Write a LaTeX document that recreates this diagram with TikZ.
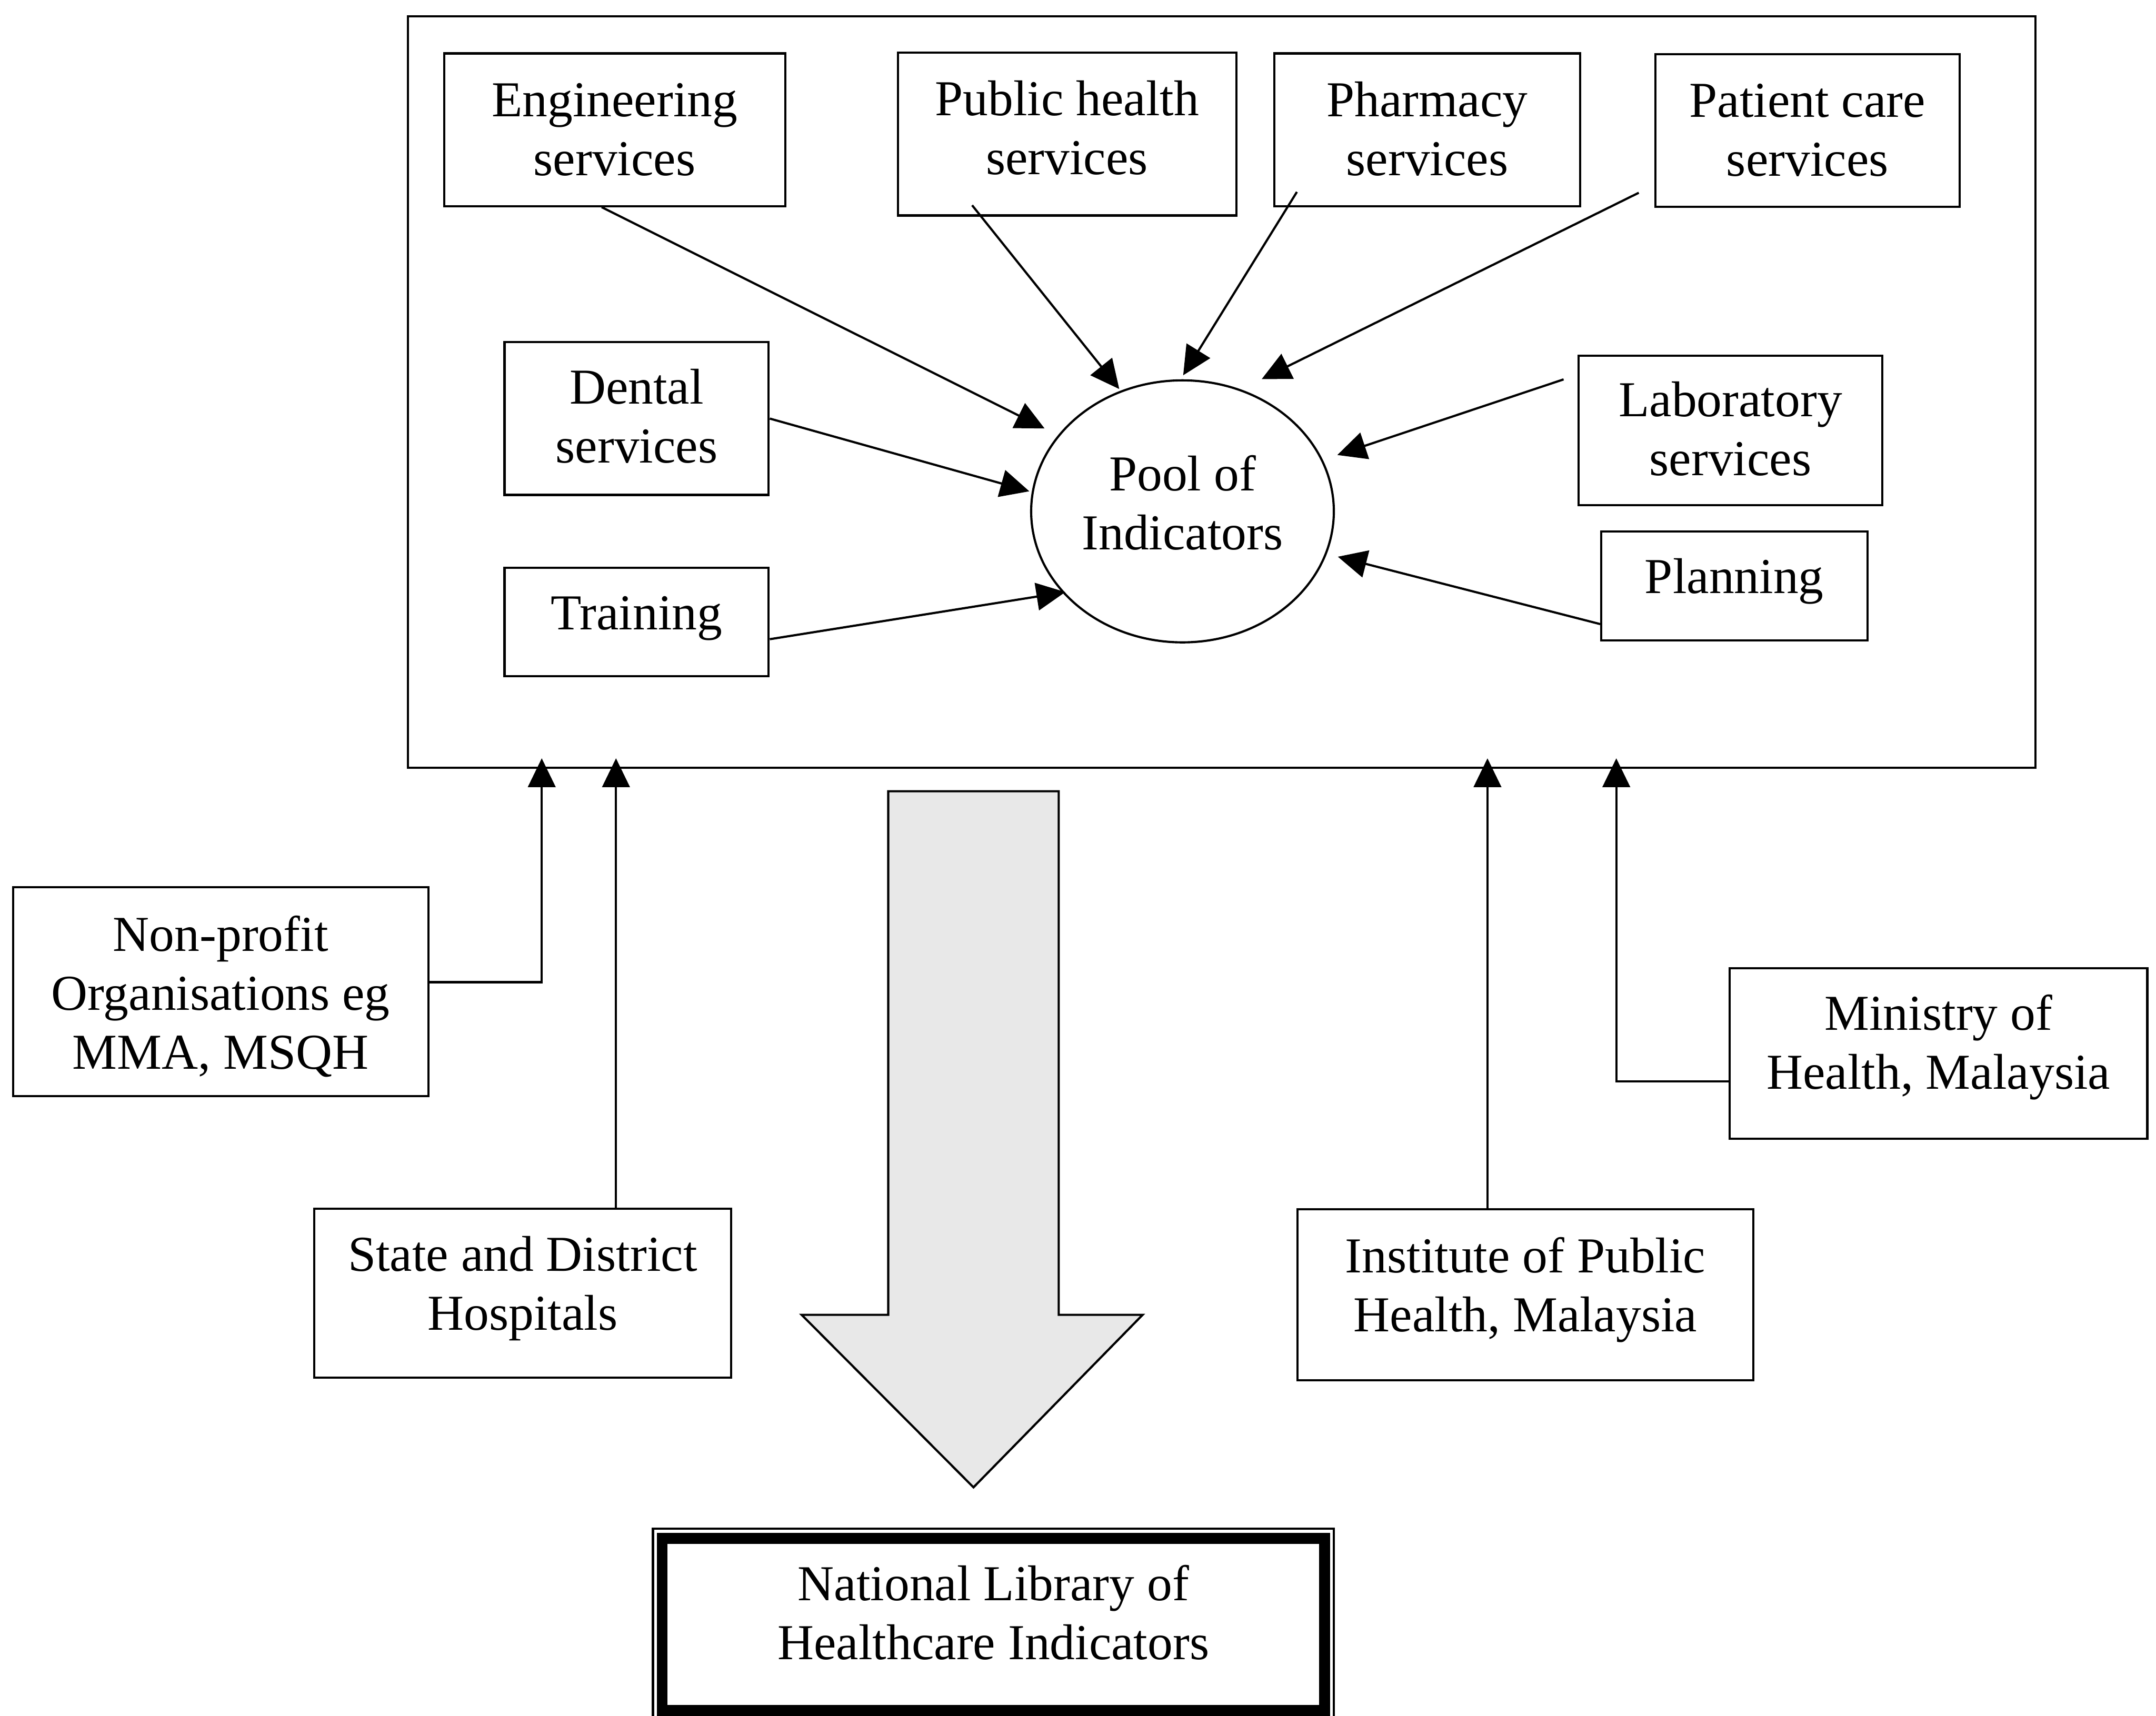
\documentclass[tikz,border=0pt]{standalone}
\usepackage{fontspec}
\setmainfont{Liberation Serif}
\usetikzlibrary{arrows.meta,shapes.geometric}

% text block of fixed size, lines hung from the top with a given gap
\newcommand{\toptext}[4]{\parbox[c][#2][t]{#1}{\centering\vspace*{#3}\strut#4\strut}}

\definecolor{arrowgray}{HTML}{E8E8E8}

\begin{document}
\begin{tikzpicture}[x=0.01cm,y=-0.01cm,
  every node/.style={font=\fontsize{10.4pt}{12.2pt}\selectfont, inner sep=0pt},
  box/.style={draw, line width=0.45pt},
  arr/.style={line width=0.45pt, -{Triangle[length=2.1mm,width=2mm]}},
  bigarrow/.style={draw, line width=0.45pt, fill=arrowgray, line join=miter}]

\fill[white] (0,0) rectangle (1568,1248);
\useasboundingbox (0,0) rectangle (1568,1248);

% enclosing frame of the indicator sources
\node[box, minimum width=11.83cm, minimum height=5.465cm] (frame) at (888.5,285.25) {};

% sources inside the frame
\node[box] (eng)   at (447,94.4)    {\toptext{2.48cm}{1.11cm}{4.5pt}{Engineering\\services}};
\node[box] (ph)    at (776,97.5)    {\toptext{2.46cm}{1.184cm}{4.5pt}{Public health\\services}};
\node[box] (pharm) at (1038,94.4)   {\toptext{2.22cm}{1.11cm}{4.5pt}{Pharmacy\\services}};
\node[box] (pcare) at (1314.5,94.9) {\toptext{2.21cm}{1.11cm}{4.5pt}{Patient care\\services}};
\node[box] (dental) at (463,304.5)  {\toptext{1.92cm}{1.11cm}{4.2pt}{Dental\\services}};
\node[box] (lab)   at (1258.5,313.1) {\toptext{2.21cm}{1.086cm}{4.0pt}{Laboratory\\services}};
\node[box] (train) at (463,452.5)   {\toptext{1.92cm}{0.79cm}{4.25pt}{Training}};
\node[box] (plan)  at (1261.3,426.3) {\toptext{1.934cm}{0.794cm}{4.25pt}{Planning}};

% central pool
\node[draw, ellipse, line width=0.45pt, minimum width=2.2cm, minimum height=1.905cm] (pool) at (860,372)
  {\parbox[c][0.9cm][t]{1.5cm}{\centering\strut Pool of\\Indicators}};

% contributing organisations outside the frame
\node[box] (npo)   at (160.5,721.5)  {\toptext{3.02cm}{1.52cm}{4.7pt}{Non-profit\\Organisations eg\\MMA, MSQH}};
\node[box] (state) at (380.1,940.7)  {\toptext{3.028cm}{1.227cm}{4.4pt}{State and District\\Hospitals}};
\node[box] (inst)  at (1109.4,941.9) {\toptext{3.312cm}{1.243cm}{4.55pt}{Institute of Public\\Health, Malaysia}};
\node[box] (moh)   at (1409.8,766.5) {\toptext{3.036cm}{1.24cm}{4.25pt}{Ministry of\\Health, Malaysia}};

% national library with thin-thick border
\node[box] (nl) at (722.5,1181.75) {\toptext{4.95cm}{1.395cm}{6.3pt}{National Library of\\Healthcare Indicators}};
\draw[line width=0.08cm] ([shift={(7.5,8)}]nl.north west) rectangle ([shift={(-7.5,-8)}]nl.south east);

% broad downward arrow
\draw[bigarrow] (646,575.6) -- (770,575.6) -- (770,956.5) -- (831,956.5) -- (708,1082)
  -- (583,956.5) -- (646,956.5) -- cycle;

% flows into the pool
\draw[arr] ([shift={(-9.4,0)}]eng.south) -- ([shift={(-100.3,-60.3)}]pool.center);
\draw[arr] ([shift={(-69,-8.2)}]ph.south) -- ([shift={(-46,-89)}]pool.center);
\draw[arr] ([shift={(-94.8,-11.1)}]pharm.south) -- ([shift={(0.5,-99)}]pool.center);
\draw[arr] ([shift={(-11.3,-11)}]pcare.south west) -- ([shift={(57.6,-96.2)}]pool.center);
\draw[arr] (dental.east) -- ([shift={(-111.4,-14.6)}]pool.center);
\draw[arr] ([shift={(0,12.5)}]train.east) -- ([shift={(-85.2,58.7)}]pool.center);
\draw[arr] ([shift={(-10,-37.1)}]lab.west) -- ([shift={(112.6,-41)}]pool.center);
\draw[arr] ([shift={(0,27.7)}]plan.west) -- ([shift={(113,33)}]pool.center);

% flows up into the frame
\coordinate (tipline) at ([shift={(0,-7.8)}]frame.south);
\draw[arr] ([shift={(0,-7)}]npo.east) -| ([shift={(-494.5,-7.8)}]frame.south);
\draw[arr] ([shift={(67.9,0)}]state.north) -- ([shift={(67.9,0)}]state.north |- tipline);
\draw[arr] ([shift={(-27.6,0)}]inst.north) -- ([shift={(-27.6,0)}]inst.north |- tipline);
\draw[arr] ([shift={(0,20.1)}]moh.west) -| ([shift={(287,-7.8)}]frame.south);

\end{tikzpicture}
\end{document}
